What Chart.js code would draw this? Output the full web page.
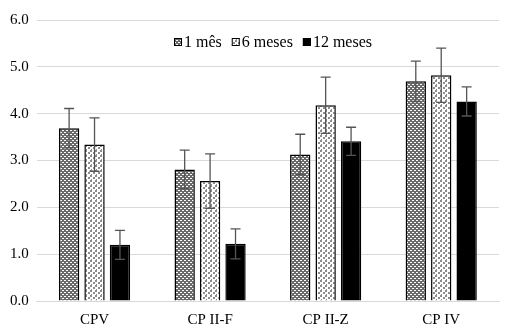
<!DOCTYPE html>
<html>
<head>
<meta charset="utf-8">
<script src="https://cdn.jsdelivr.net/npm/chart.js@4.4.0/dist/chart.umd.min.js"></script>
<style>
  html, body { margin: 0; padding: 0; background: #fff; overflow: hidden; }
</style>
</head>
<body>
<canvas id="chart" width="509" height="329"></canvas>
<script>
const categories = ["CPV", "CP II-F", "CP II-Z", "CP IV"];
const seriesNames = ["1 mês", "6 meses", "12 meses"];
const mes1 = [3.69, 2.81, 3.13, 4.69];
const meses6 = [3.34, 2.56, 4.18, 4.82];
const meses12 = [1.20, 1.22, 3.41, 4.26];
const err1 = [0.42, 0.41, 0.43, 0.43];
const err6 = [0.57, 0.58, 0.60, 0.58];
const err12 = [0.31, 0.32, 0.30, 0.31];

const FONT = "Liberation Serif";

function makePattern(bg, fg, rects, size) {
  const c = document.createElement("canvas");
  c.width = size; c.height = size;
  const g = c.getContext("2d");
  g.fillStyle = bg;
  g.fillRect(0, 0, size, size);
  g.fillStyle = fg;
  rects.forEach(r => g.fillRect(r[0], r[1], r[2], r[3]));
  return g.createPattern(c, "repeat");
}

const ctx = document.getElementById("chart").getContext("2d");
const patDark = makePattern("#6a6a6a", "#ffffff", [[0, 0, 2, 1], [2, 2, 2, 1]], 4);
const patLight = makePattern("#ffffff", "#8c8c8c", [[0, 0, 2, 2], [3, 2, 2, 2], [1, 4, 1, 1]], 5);

// error bars drawn through each bar, with caps at both ends
const errorBars = {
  id: "errorBars",
  afterDatasetsDraw(chart) {
    const g = chart.ctx;
    const y = chart.scales.y;
    g.save();
    g.strokeStyle = "#555";
    g.lineWidth = 1.3;
    chart.data.datasets.forEach((ds, i) => {
      chart.getDatasetMeta(i).data.forEach((bar, j) => {
        const v = ds.data[j], e = ds.errors[j];
        const top = y.getPixelForValue(v + e);
        const bot = y.getPixelForValue(v - e);
        const x = bar.x;
        g.beginPath();
        g.moveTo(x, top); g.lineTo(x, bot);
        g.moveTo(x - 5, top); g.lineTo(x + 5, top);
        g.moveTo(x - 5, bot); g.lineTo(x + 5, bot);
        g.stroke();
      });
    });
    g.restore();
  }
};

// legend row sitting inside the plot, between the top gridlines
const insideLegend = {
  id: "insideLegend",
  afterDraw(chart) {
    const g = chart.ctx;
    const area = chart.chartArea;
    const box = 8, gap = 2, spacing = 10;
    g.save();
    g.font = "16px '" + FONT + "'";
    g.textBaseline = "middle";
    const items = chart.data.datasets.map(ds => ({ ds, w: box + gap + g.measureText(ds.label).width }));
    const total = items.reduce((s, it) => s + it.w, 0) + spacing * (items.length - 1);
    let x = Math.round((area.left + area.right) / 2 - total / 2 + 5);
    const y = area.top + 22;
    items.forEach(it => {
      g.fillStyle = it.ds.backgroundColor;
      g.fillRect(x, y - box / 2, box, box);
      g.strokeStyle = "#000";
      g.lineWidth = 1;
      g.strokeRect(x + 0.5, y - box / 2 + 0.5, box - 1, box - 1);
      g.fillStyle = "#000";
      g.fillText(it.ds.label, x + box + gap, y + 1);
      x += it.w + spacing;
    });
    g.restore();
  }
};

new Chart(ctx, {
  type: "bar",
  data: {
    labels: categories,
    datasets: [
      { label: seriesNames[0], data: mes1, errors: err1, backgroundColor: patDark, borderColor: "#000", borderWidth: 1.5 },
      { label: seriesNames[1], data: meses6, errors: err6, backgroundColor: patLight, borderColor: "#000", borderWidth: 1.5 },
      { label: seriesNames[2], data: meses12, errors: err12, backgroundColor: "#000", borderColor: "#000", borderWidth: 1.5 }
    ]
  },
  options: {
    responsive: false,
    animation: false,
    layout: { padding: { left: 2, right: 10, top: 20, bottom: -10 } },
    datasets: { bar: { categoryPercentage: 0.66, barPercentage: 0.8 } },
    scales: {
      x: {
        grid: { display: false, drawTicks: false },
        border: { color: "#d9d9d9" },
        ticks: { color: "#000", font: { family: FONT, size: 15 }, padding: 10 }
      },
      y: {
        min: 0,
        max: 6,
        ticks: {
          stepSize: 1,
          color: "#000",
          padding: 8,
          font: { family: FONT, size: 15 },
          callback: v => v.toFixed(1)
        },
        grid: { color: "#d9d9d9", drawTicks: false },
        border: { display: false }
      }
    },
    plugins: {
      legend: { display: false },
      tooltip: { enabled: false }
    }
  },
  plugins: [errorBars, insideLegend]
});
</script>
</body>
</html>
